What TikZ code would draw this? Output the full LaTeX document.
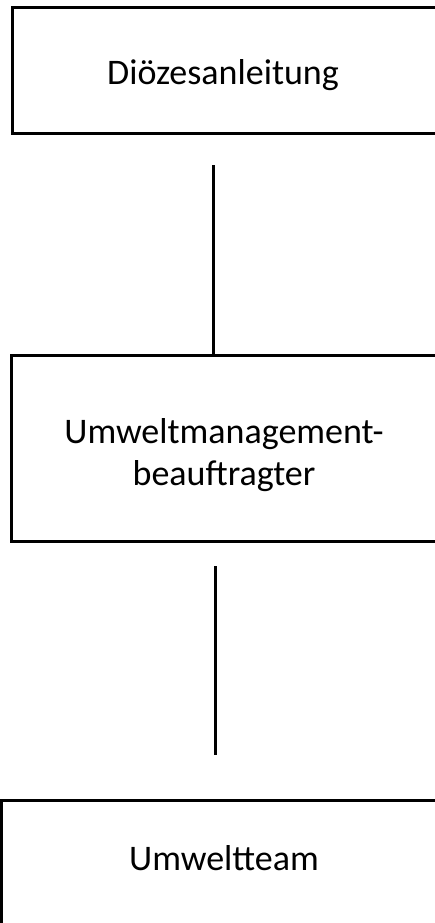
\documentclass[tikz,border=0pt]{standalone}
\usepackage{fontspec}
\setmainfont{Carlito}
\begin{document}
\begin{tikzpicture}[x=1pt,y=-1pt,
  orgbox/.style={draw=black,line width=3pt,rectangle,inner sep=0pt,fill=none},
  orgtext/.style={font=\fontsize{36}{42}\selectfont,align=center,inner sep=0pt,text=black},
  link/.style={draw=black,line width=3pt}]
\useasboundingbox (0,0) rectangle (435,923);
\clip (0,0) rectangle (435,923);
% boxes
\node[orgbox,minimum width=428pt,minimum height=125.5pt] (b1) at (226.5,70.75) {};
\node[orgbox,minimum width=425pt,minimum height=185.5pt] (b2) at (224,448.25) {};
\node[orgbox,minimum width=450pt,minimum height=160pt] (b3) at (226.5,880) {};
% texts
\node[orgtext,anchor=base] (t1) at (223,84.5) {Diözesanleitung};
\node[orgtext] (t2) at (224,455) {Umweltmanagement-\\beauftragter};
\node[orgtext,anchor=base] (t3) at (224,870) {Umweltteam};
% connectors
\coordinate (c1) at (213,165);
\draw[link] (c1) -- (c1 |- b2.north);
\coordinate (c2a) at (215.5,566);
\coordinate (c2b) at (215.5,755);
\draw[link] (c2a) -- (c2b);
\end{tikzpicture}
\end{document}
